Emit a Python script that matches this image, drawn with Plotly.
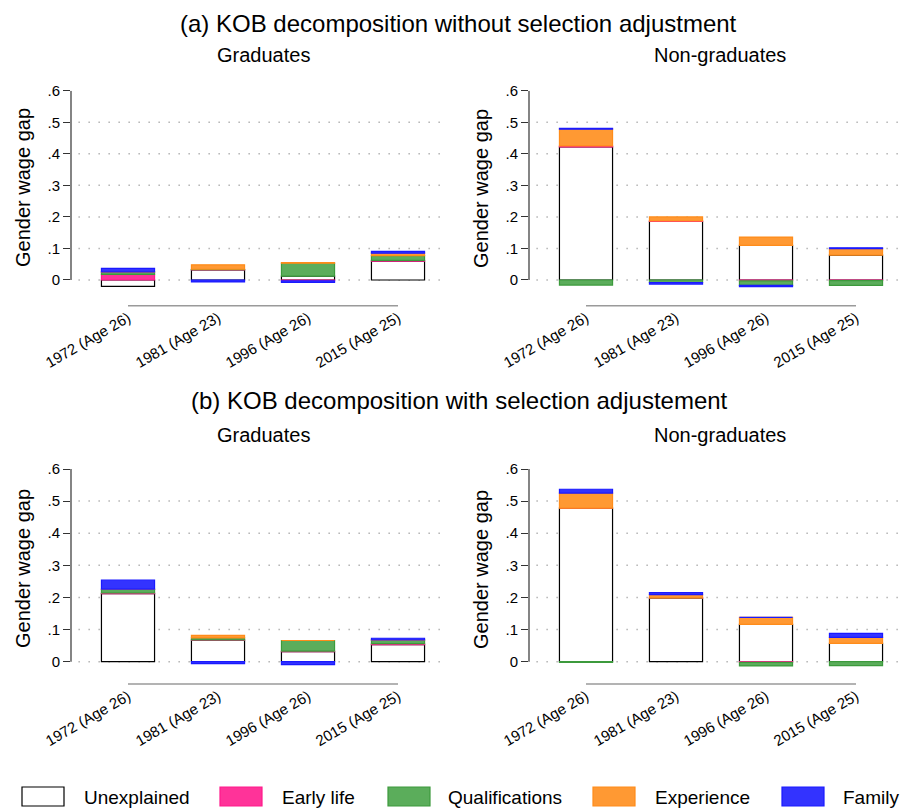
import plotly.graph_objects as go

# page body has an 8px margin; compensate so the chart lands where the reference is
OFF = 8
W, H = 913 - OFF, 810 - OFF
FONT = "Liberation Sans, Arial, sans-serif"

categories = ["1972 (Age 26)", "1981 (Age 23)", "1996 (Age 26)", "2015 (Age 25)"]
components = ["Unexplained", "Early life", "Qualifications", "Experience", "Family"]

# (a) without selection adjustment - Graduates
a_grad_unexplained = [-0.020, 0.032, 0.012, 0.060]
a_grad_early = [0.018, 0.001, -0.003, 0.002]
a_grad_qual = [0.007, 0.001, 0.041, 0.015]
a_grad_exp = [0.001, 0.014, 0.002, 0.008]
a_grad_family = [0.011, -0.006, -0.005, 0.006]

# (a) without selection adjustment - Non-graduates
a_ng_unexplained = [0.422, 0.186, 0.110, 0.079]
a_ng_early = [0.003, 0.001, -0.003, -0.002]
a_ng_qual = [-0.016, -0.008, -0.014, -0.015]
a_ng_exp = [0.053, 0.013, 0.026, 0.020]
a_ng_family = [0.003, -0.005, -0.004, 0.003]

# (b) with selection adjustment - Graduates
b_grad_unexplained = [0.212, 0.067, 0.031, 0.053]
b_grad_early = [0.002, 0.001, 0.002, 0.003]
b_grad_qual = [0.011, 0.006, 0.033, 0.011]
b_grad_exp = [0.001, 0.008, 0.000, 0.001]
b_grad_family = [0.028, -0.006, -0.009, 0.005]

# (b) with selection adjustment - Non-graduates
b_ng_unexplained = [0.478, 0.198, 0.116, 0.057]
b_ng_early = [0.000, 0.001, -0.002, 0.000]
b_ng_qual = [-0.002, 0.000, -0.011, -0.012]
b_ng_exp = [0.047, 0.010, 0.022, 0.019]
b_ng_family = [0.012, 0.006, 0.000, 0.012]

ytick_vals = [0, 0.1, 0.2, 0.3, 0.4, 0.5, 0.6]
ytick_text = ["0", ".1", ".2", ".3", ".4", ".5", ".6"]

fills = ["#ffffff", "#ff3399", "#5bad5b", "#ff9933", "#3333ff"]
lines = ["#000000", "#ff1a8c", "#3c9a3c", "#ff8c1a", "#1a1aff"]

panels = [
    ("x", "y", [a_grad_unexplained, a_grad_early, a_grad_qual, a_grad_exp, a_grad_family]),
    ("x2", "y2", [a_ng_unexplained, a_ng_early, a_ng_qual, a_ng_exp, a_ng_family]),
    ("x3", "y3", [b_grad_unexplained, b_grad_early, b_grad_qual, b_grad_exp, b_grad_family]),
    ("x4", "y4", [b_ng_unexplained, b_ng_early, b_ng_qual, b_ng_exp, b_ng_family]),
]

fig = go.Figure()
for xa, ya, series in panels:
    for name, vals, fc, lc in zip(components, series, fills, lines):
        fig.add_trace(go.Bar(
            x=list(range(len(categories))), y=vals, name=name, xaxis=xa, yaxis=ya,
            width=0.59, marker=dict(color=fc, line=dict(color=lc, width=1.2)),
            showlegend=False,
        ))

def px_x(p):
    return (p - OFF) / W

def px_y(p):
    return 1 - (p - OFF) / H

xdom_left = [px_x(71), px_x(442)]
xdom_right = [px_x(529), px_x(898)]
ydom_a = [px_y(305.7), px_y(90.7)]
ydom_b = [px_y(684), px_y(469)]
xr_left = [-0.6333, -0.6333 + 371 / 90]
xr_right = [-0.6333, -0.6333 + 369 / 90]
yr_a = [-0.0815, 0.6]
yr_b = [-0.0694, 0.6]

def xaxis(dom, rng, anchor):
    return dict(domain=dom, range=rng, anchor=anchor, showgrid=False, zeroline=False,
                showline=False, tickmode="array", tickvals=list(range(len(categories))),
                ticktext=categories, tickangle=-30, ticks="", automargin=False,
                tickfont=dict(family=FONT, size=15, color="#000"))

def yaxis(dom, rng, anchor):
    return dict(domain=dom, range=rng, anchor=anchor, showgrid=False, zeroline=False,
                showline=False, tickmode="array", tickvals=ytick_vals, ticktext=ytick_text,
                ticks="outside", ticklen=7, tickcolor="#333", tickwidth=1, automargin=False,
                tickfont=dict(family=FONT, size=15, color="#000"))

fig.update_layout(
    template="none",
    width=W, height=H, margin=dict(l=0, r=0, t=0, b=0, pad=0),
    paper_bgcolor="white", plot_bgcolor="white", barmode="relative",
    font=dict(family=FONT, color="#000"),
    xaxis=xaxis(xdom_left, xr_left, "y"),
    yaxis=yaxis(ydom_a, yr_a, "x"),
    xaxis2=xaxis(xdom_right, xr_right, "y2"),
    yaxis2=yaxis(ydom_a, yr_a, "x2"),
    xaxis3=xaxis(xdom_left, xr_left, "y3"),
    yaxis3=yaxis(ydom_b, yr_b, "x3"),
    xaxis4=xaxis(xdom_right, xr_right, "y4"),
    yaxis4=yaxis(ydom_b, yr_b, "x4"),
)

shapes = []
annotations = []
for xa, ya, _ in panels:
    xd = xa + " domain"
    yd = ya + " domain"
    for v in ytick_vals[:-1]:
        shapes.append(dict(type="line", xref=xd, yref=ya, x0=0.02, x1=1, y0=v, y1=v,
                           line=dict(color="#b4b4b4", width=1.5, dash="1.5px,8.5px"), layer="below"))
    shapes.append(dict(type="line", xref=xd, yref=ya, x0=0, x1=0, y0=0, y1=0.6,
                       line=dict(color="#333", width=1.2)))
    shapes.append(dict(type="line", xref=xa, yref=yd, x0=0, x1=3, y0=0, y1=0,
                       line=dict(color="#9a9a9a", width=1.5)))

annotations.append(dict(text="(a) KOB decomposition without selection adjustment", x=px_x(458), y=px_y(23),
                        xref="paper", yref="paper", showarrow=False, font=dict(size=24, family=FONT),
                        xanchor="center", yanchor="middle"))
annotations.append(dict(text="(b) KOB decomposition with selection adjustement", x=px_x(459), y=px_y(401),
                        xref="paper", yref="paper", showarrow=False, font=dict(size=24, family=FONT),
                        xanchor="center", yanchor="middle"))
for yy in [55, 435]:
    annotations.append(dict(text="Graduates", x=px_x(263), y=px_y(yy), xref="paper", yref="paper",
                            showarrow=False, font=dict(size=20, family=FONT), xanchor="center", yanchor="middle"))
    annotations.append(dict(text="Non-graduates", x=px_x(720), y=px_y(yy), xref="paper", yref="paper",
                            showarrow=False, font=dict(size=20, family=FONT), xanchor="center", yanchor="middle"))
for xx in [23, 481]:
    for yy in [188, 569]:
        annotations.append(dict(text="Gender wage gap", x=px_x(xx), y=px_y(yy), xref="paper", yref="paper",
                                showarrow=False, textangle=-90, font=dict(size=20, family=FONT),
                                xanchor="center", yanchor="middle"))

legend_box_x = [22, 220, 388, 593, 782]
legend_text_x = [82, 280, 446, 653, 841]
for name, fc, lc, bx, tx in zip(components, fills, lines, legend_box_x, legend_text_x):
    shapes.append(dict(type="rect", xref="paper", yref="paper", x0=px_x(bx), x1=px_x(bx + 42),
                       y0=px_y(806), y1=px_y(787), fillcolor=fc, line=dict(color=lc, width=1.2)))
    annotations.append(dict(text=name, x=px_x(tx), y=px_y(797), xref="paper", yref="paper",
                            showarrow=False, font=dict(size=19, family=FONT), xanchor="left", yanchor="middle"))

fig.update_layout(shapes=shapes, annotations=annotations)
fig.write_html("out.html")
